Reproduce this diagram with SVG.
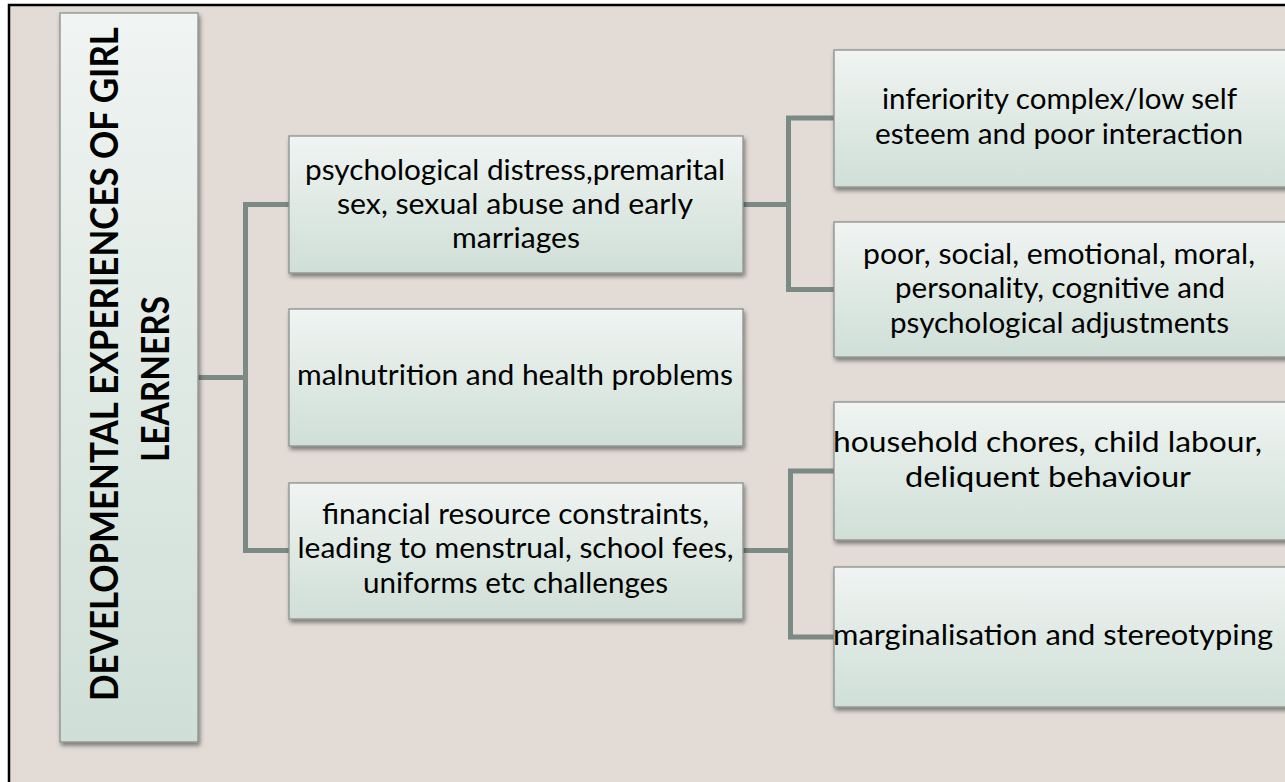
<svg xmlns="http://www.w3.org/2000/svg" width="1285" height="782" viewBox="0 0 1285 782">
<defs>
<linearGradient id="boxGrad" x1="0" y1="0" x2="0" y2="1">
<stop offset="0" stop-color="#f0f4f2"/>
<stop offset="1" stop-color="#cfdfd7"/>
</linearGradient>
<filter id="shadow" x="-10%" y="-10%" width="120%" height="130%">
<feDropShadow dx="1.5" dy="3" stdDeviation="2" flood-color="#000" flood-opacity="0.45"/>
</filter>
<style>
.box{fill:url(#boxGrad);stroke:#8a918d;stroke-width:1.3;filter:url(#shadow)}
.t{font-family:Lato,"Open Sans","Liberation Sans",sans-serif;font-size:29px;fill:#000;text-anchor:middle}
.title{font-family:Lato,"Open Sans","Liberation Sans",sans-serif;font-size:34px;font-weight:bold;fill:#000;text-anchor:middle}
.conn{fill:none;stroke:#7b8a84;stroke-width:5;stroke-linejoin:miter;stroke-linecap:butt}
</style>
</defs>
<rect x="0" y="0" width="1285" height="782" fill="#ffffff"/>
<rect x="9" y="5" width="1300" height="800" fill="#e2dbd6" stroke="#000" stroke-width="2.5"/>

<g id="connectors">
<path class="conn" d="M198 377.5 H245.5 M245.5 204.5 V550.5 M243 204.5 H289 M243 550.5 H289"/>
<path class="conn" d="M743 204.5 H788.5 M788.5 118 V289.5 M786 118 H834 M786 289.5 H834"/>
<path class="conn" d="M743 550.5 H790.5 M790.5 471 V637 M788 471 H834 M788 637 H834"/>
</g>

<g id="title">
<rect class="box" x="60" y="13" width="138" height="729"/>
<text class="title" transform="translate(118,364) rotate(-90) scale(1,1.12)" textLength="674" lengthAdjust="spacingAndGlyphs">DEVELOPMENTAL EXPERIENCES OF GIRL</text>
<text class="title" transform="translate(169,379) rotate(-90) scale(1,1.12)" textLength="166" lengthAdjust="spacingAndGlyphs">LEARNERS</text>
</g>

<g id="node-psych">
<rect class="box" x="289" y="136" width="454" height="137"/>
<text class="t" x="515" y="180" textLength="420" lengthAdjust="spacingAndGlyphs">psychological distress,premarital</text>
<text class="t" x="515" y="214" textLength="356" lengthAdjust="spacingAndGlyphs">sex, sexual abuse and  early</text>
<text class="t" x="516" y="248" textLength="128" lengthAdjust="spacingAndGlyphs">marriages</text>
</g>

<g id="node-malnutrition">
<rect class="box" x="289" y="309" width="454" height="137"/>
<text class="t" x="515" y="385" textLength="436" lengthAdjust="spacingAndGlyphs">malnutrition and health problems</text>
</g>

<g id="node-financial">
<rect class="box" x="289" y="483" width="454" height="136"/>
<text class="t" x="515.5" y="524" textLength="387" lengthAdjust="spacingAndGlyphs">financial resource constraints,</text>
<text class="t" x="515.5" y="558" textLength="436" lengthAdjust="spacingAndGlyphs">leading to menstrual, school fees,</text>
<text class="t" x="515.5" y="593" textLength="305" lengthAdjust="spacingAndGlyphs">uniforms etc challenges</text>
</g>

<g id="node-inferiority">
<rect class="box" x="834" y="50" width="455" height="137"/>
<text class="t" x="1059.5" y="109" textLength="355" lengthAdjust="spacingAndGlyphs">inferiority complex/low self</text>
<text class="t" x="1059" y="144" textLength="368" lengthAdjust="spacingAndGlyphs">esteem and poor interaction</text>
</g>

<g id="node-adjustments">
<rect class="box" x="834" y="222" width="455" height="135"/>
<text class="t" x="1059" y="264" textLength="392" lengthAdjust="spacingAndGlyphs">poor, social, emotional, moral,</text>
<text class="t" x="1060" y="298" textLength="330" lengthAdjust="spacingAndGlyphs">personality, cognitive and</text>
<text class="t" x="1059.5" y="333" textLength="339" lengthAdjust="spacingAndGlyphs">psychological adjustments</text>
</g>

<g id="node-household">
<rect class="box" x="834" y="402" width="455" height="138"/>
<text class="t" x="1047.5" y="452" textLength="429" lengthAdjust="spacingAndGlyphs">household chores, child labour,</text>
<text class="t" x="1048" y="487" textLength="286" lengthAdjust="spacingAndGlyphs">deliquent behaviour</text>
</g>

<g id="node-marginalisation">
<rect class="box" x="834" y="567" width="455" height="140"/>
<text class="t" x="1053" y="645" textLength="440" lengthAdjust="spacingAndGlyphs">marginalisation and stereotyping</text>
</g>
</svg>
